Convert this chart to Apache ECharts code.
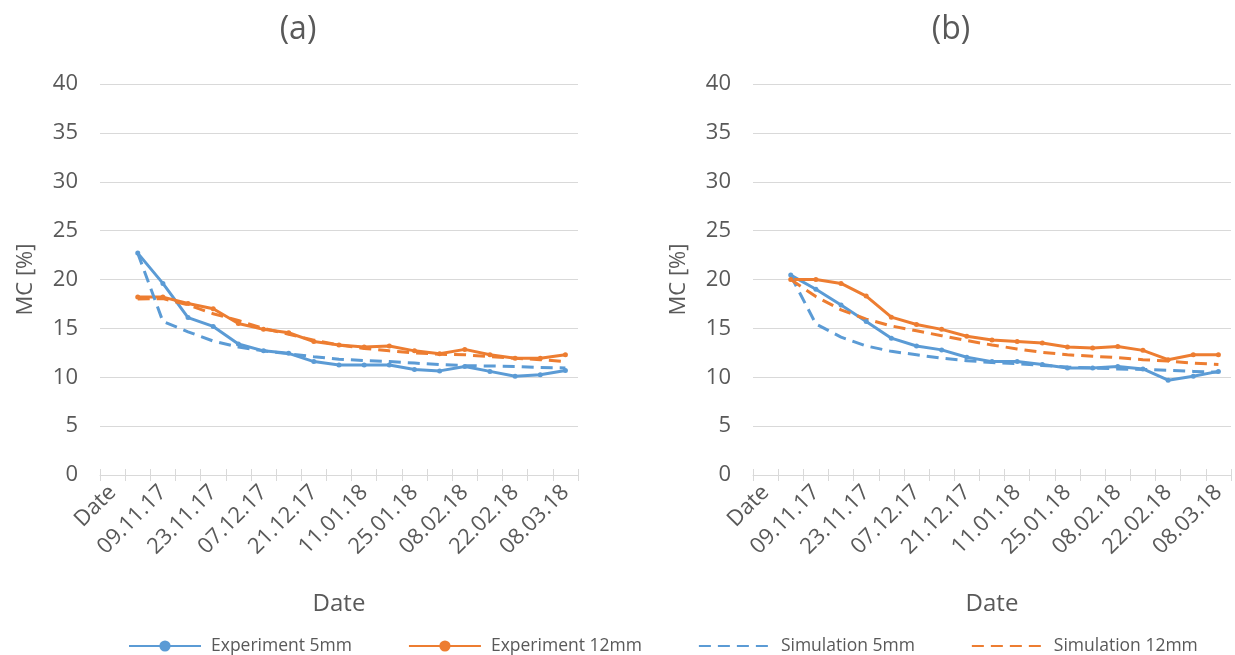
<!DOCTYPE html>
<html>
<head>
<meta charset="utf-8">
<script src="https://cdn.jsdelivr.net/npm/echarts@6/dist/echarts.min.js"></script>
<style>
html,body{margin:0;padding:0;background:#fff;}
#chart{width:1235px;height:655px;}
</style>
</head>
<body>
<div id="chart"></div>
<script>
var categories = ['Date','02.11.17','09.11.17','16.11.17','23.11.17','30.11.17','07.12.17','14.12.17','21.12.17','04.01.18','11.01.18','18.01.18','25.01.18','01.02.18','08.02.18','15.02.18','22.02.18','01.03.18','08.03.18'];
var yTicks = [0,5,10,15,20,25,30,35,40];
var panelTitles = ['(a)','(b)'];
var seriesNames = ['Experiment 5mm','Experiment 12mm','Simulation 5mm','Simulation 12mm'];

// Panel (a)
var aExp5  = [null,22.7,19.6,16.1,15.2,13.4,12.7,12.45,11.6,11.25,11.25,11.25,10.8,10.65,11.1,10.6,10.1,10.25,10.7];
var aExp12 = [null,18.2,18.2,17.55,17.0,15.5,14.9,14.55,13.65,13.3,13.1,13.2,12.7,12.4,12.85,12.3,11.95,11.95,12.3];
var aSim5  = [null,22.7,15.7,14.65,13.7,13.1,12.7,12.4,12.1,11.85,11.7,11.6,11.45,11.3,11.2,11.15,11.1,11.0,10.95];
var aSim12 = [null,18.0,18.05,17.4,16.5,15.8,15.0,14.4,13.8,13.3,12.95,12.7,12.5,12.35,12.3,12.1,11.95,11.8,11.6];

// Panel (b)
var bExp5  = [null,20.45,19.0,17.4,15.7,14.0,13.2,12.8,12.05,11.6,11.6,11.3,10.95,10.95,11.1,10.85,9.7,10.1,10.6];
var bExp12 = [null,20.0,20.0,19.6,18.3,16.15,15.4,14.9,14.2,13.8,13.65,13.5,13.1,13.0,13.15,12.75,11.8,12.3,12.3];
var bSim5  = [null,20.4,15.45,14.1,13.2,12.65,12.3,11.95,11.7,11.5,11.4,11.2,11.05,10.95,10.85,10.8,10.7,10.6,10.5];
var bSim12 = [null,20.0,18.25,16.9,15.95,15.25,14.75,14.25,13.75,13.3,12.9,12.55,12.3,12.15,12.0,11.8,11.65,11.45,11.3];

var BLUE = '#5B9BD5', ORANGE = '#ED7D31', GRID = '#D9D9D9', TXT = '#595959';
var FONT = '"Open Sans", "Liberation Sans", sans-serif';

function mkGrid(left){ return {left:left, top:84, width:478, height:391, containLabel:false}; }
function mkX(gi, main){
  return {
    type:'category', gridIndex:gi, data:categories, position:'bottom',
    boundaryGap:true,
    name: main ? 'Date' : '', nameLocation:'middle', nameGap:117,
    nameTextStyle:{color:TXT, fontSize:24, fontFamily:FONT},
    axisLine:{show:main, lineStyle:{color:GRID, width:1}},
    axisTick:{show:true, inside:!main, length:6, interval:0, lineStyle:{color:GRID, width:1}},
    axisLabel:{show:main, interval:1, rotate:45, margin:14, color:TXT, fontSize:22, fontFamily:FONT},
    splitLine:{show:false}
  };
}
function mkY(gi){
  return {
    type:'value', gridIndex:gi, min:yTicks[0], max:yTicks[yTicks.length-1], interval:yTicks[1]-yTicks[0],
    name:'MC [%]', nameLocation:'middle', nameGap:63, nameRotate:90,
    nameTextStyle:{color:TXT, fontSize:22, fontFamily:FONT},
    axisLine:{show:false}, axisTick:{show:false},
    axisLabel:{color:TXT, fontSize:22, fontFamily:FONT, margin:22},
    splitLine:{lineStyle:{color:GRID, width:1}}
  };
}
function mkS(name, data, color, dashed, gi){
  return {
    name:name, type:'line', xAxisIndex:gi, yAxisIndex:gi, data:data,
    symbol: dashed ? 'none' : 'circle', symbolSize:5, showSymbol:!dashed,
    connectNulls:false, animation:false,
    lineStyle:{color:color, width:3, type: dashed ? [12,7] : 'solid'},
    itemStyle:{color:color}
  };
}

var chart = echarts.init(document.getElementById('chart'), null, {renderer:'canvas'});
chart.setOption({
  backgroundColor:'#fff',
  animation:false,
  title:[
    {text:panelTitles[0], left:293, top:9, textAlign:'center', textStyle:{color:TXT, fontSize:32, fontWeight:'normal', fontFamily:FONT}},
    {text:panelTitles[1], left:946, top:9, textAlign:'center', textStyle:{color:TXT, fontSize:32, fontWeight:'normal', fontFamily:FONT}}
  ],
  legend:{
    data:[
      {name:seriesNames[0]},
      {name:seriesNames[1]},
      {name:seriesNames[2], itemStyle:{opacity:0}},
      {name:seriesNames[3], itemStyle:{opacity:0}}
    ],
    left:128, top:637, padding:0, itemGap:56, itemWidth:72, itemHeight:14,
    textStyle:{color:TXT, fontSize:17.5, fontFamily:FONT, padding:[0,0,0,5]}
  },
  grid:[mkGrid(100), mkGrid(753)],
  xAxis:[mkX(0,true), mkX(1,true), mkX(0,false), mkX(1,false)],
  yAxis:[mkY(0), mkY(1)],
  series:[
    mkS(seriesNames[0], aExp5, BLUE, false, 0),
    mkS(seriesNames[1], aExp12, ORANGE, false, 0),
    mkS(seriesNames[2], aSim5, BLUE, true, 0),
    mkS(seriesNames[3], aSim12, ORANGE, true, 0),
    mkS(seriesNames[0], bExp5, BLUE, false, 1),
    mkS(seriesNames[1], bExp12, ORANGE, false, 1),
    mkS(seriesNames[2], bSim5, BLUE, true, 1),
    mkS(seriesNames[3], bSim12, ORANGE, true, 1)
  ]
});
</script>
</body>
</html>
